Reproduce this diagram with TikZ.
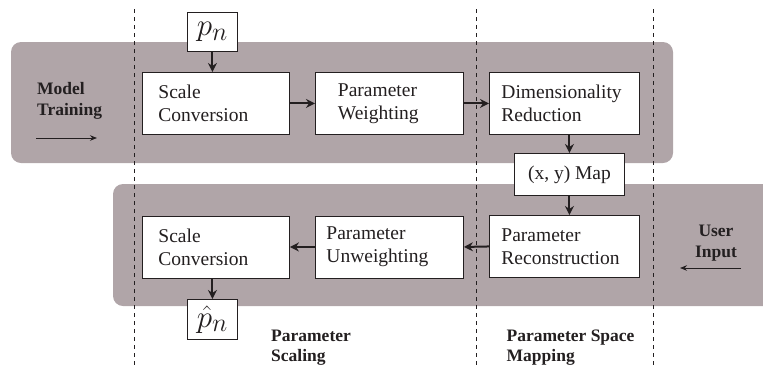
\documentclass[tikz,border=0pt]{standalone}
\usepackage{fontspec}
\setmainfont{Liberation Serif}
\usetikzlibrary{arrows.meta}
\definecolor{band}{RGB}{176,165,168}
\definecolor{ink}{RGB}{35,31,32}
\begin{document}
\begin{tikzpicture}[x=1pt,y=-1pt,
  box/.style={draw=ink, line width=0.9pt, fill=white, minimum height=62pt, inner sep=0pt,
    font=\fontsize{19.5}{23}\selectfont, text=ink, align=left, anchor=north west},
  flow/.style={draw=ink, line width=2pt, -{Stealth[length=9pt,width=9pt]}},
  lbl/.style={font=\fontsize{17.5}{20.5}\selectfont\bfseries, text=ink, inner sep=0pt},
  guide/.style={draw=ink, line width=0.7pt, dash pattern=on 4pt off 4pt},
  thinarrow/.style={draw=ink, line width=0.9pt, -{Stealth[length=7pt,width=5.5pt]}}]
\useasboundingbox (0,0) rectangle (763,368);
\begin{scope}
  \clip (0,0) rectangle (763,368);
  \fill[band, rounded corners=10pt] (11,42) rectangle (673,163);
  \fill[band, rounded corners=10pt] (113,184) rectangle (790,306);
\end{scope}
% guides
\coordinate (g1t) at (134,9);   \coordinate (g1b) at (134,368);
\coordinate (g2t) at (476,9);   \coordinate (g2b) at (476,368);
\coordinate (g3t) at (653,9);   \coordinate (g3b) at (653,368);
\draw[guide] (g1t) -- (g1b);
\draw[guide] (g2t) -- (g2b);
\draw[guide] (g3t) -- (g3b);
% boxes
\node[box, minimum width=50pt, minimum height=39pt, align=center, font=\fontsize{24.88}{28}\selectfont] (pn) at (187,12) {\scalebox{1.25}{$p_n$}};
\node[box, text width=115pt, inner xsep=16pt] (sc1) at (142,72) {Scale\\Conversion};
\node[box, text width=103pt, inner xsep=22.5pt] (pw) at (315,72) {Parameter\\Weighting};
\node[box, text width=126pt, inner xsep=12pt] (dr) at (489,72) {Dimensionality\\Reduction};
\node[box, minimum width=110pt, minimum height=42pt, align=center] (map) at (514,153) {(x, y) Map};
\node[box, text width=126pt, inner xsep=12pt] (rc) at (489,215) {Parameter\\Reconstruction};
\node[box, text width=126pt, inner xsep=11pt] (uw) at (315,215.5) {Parameter\\Unweighting};
\node[box, text width=115pt, inner xsep=16pt] (sc2) at (142,215.5) {Scale\\Conversion};
\node[box, minimum width=50pt, minimum height=40pt, align=center, font=\fontsize{24.88}{28}\selectfont] (ph) at (187,299) {\scalebox{1.25}{$\hat{p}_n$}};
% flow arrows
\draw[flow] (pn.south) -- (pn.south |- sc1.north);
\draw[flow] (sc1.east) -- (pw.west);
\draw[flow] (pw.east) -- (dr.west);
\draw[flow] (map.north |- dr.south) -- (map.north);
\draw[flow] (map.south) -- (map.south |- rc.north);
\draw[flow] (rc.west) -- (uw.east);
\draw[flow] (uw.west) -- (sc2.east);
\draw[flow] (ph.north |- sc2.south) -- (ph.north);
% labels (anchor = baseline of the last line)
\node[lbl, align=left, anchor=base west] (mt) at (37,115) {Model\\Training};
\coordinate (mta) at (36,138); \coordinate (mtb) at (97,138);
\draw[thinarrow] (mta) -- (mtb);
\node[lbl, align=center, anchor=base] (ui) at (716,257) {User\\Input};
\coordinate (uia) at (741,268); \coordinate (uib) at (680,268);
\draw[thinarrow] (uia) -- (uib);
\node[lbl, align=left, anchor=base west] (ps) at (271,361.5) {Parameter\\Scaling};
\node[lbl, align=left, anchor=base west] (psm) at (506.5,361.5) {Parameter Space\\Mapping};
\end{tikzpicture}
\end{document}
